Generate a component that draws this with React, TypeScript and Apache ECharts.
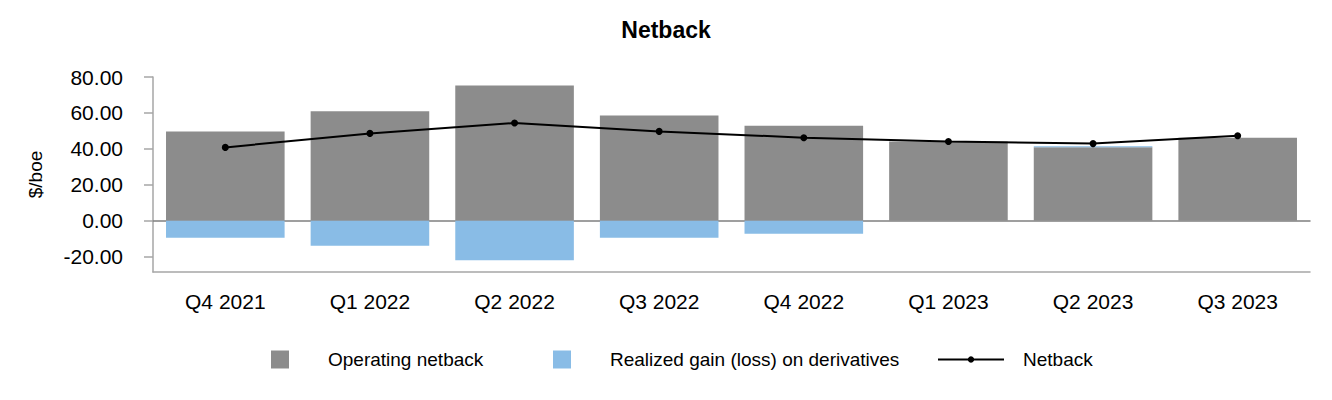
import React, { useEffect, useRef } from "react";
import * as echarts from "echarts";

const categories = ["Q4 2021", "Q1 2022", "Q2 2022", "Q3 2022", "Q4 2022", "Q1 2023", "Q2 2023", "Q3 2023"];
const operatingNetback = [49.7, 60.9, 75.3, 58.5, 52.9, 44.1, 40.9, 46.2];
const realizedDerivatives = [-9.5, -14.0, -22.0, -9.5, -7.3, 0, 0.6, 0];
const netback = [40.8, 48.6, 54.4, 49.7, 46.2, 44.1, 42.9, 47.3];
const yTicks = [-20, 0, 20, 40, 60, 80];

const FONT = 'Arial, "Liberation Sans", sans-serif';
const GRAY = "#8c8c8c";
const BLUE = "#89bce6";

export default function App() {
  const ref = useRef<HTMLDivElement>(null);
  useEffect(() => {
    if (!ref.current) return;
    const chart = echarts.init(ref.current, null, { renderer: "svg" });
    const legendText = (pad: number) => ({
      fontFamily: FONT,
      fontSize: 19,
      color: "#000",
      padding: [0, 0, 0, pad],
    });
    chart.setOption({
      animation: false,
      textStyle: { fontFamily: FONT },
      title: {
        text: "Netback",
        left: "center",
        top: 13,
        textStyle: { fontFamily: FONT, fontSize: 23, fontWeight: "bold", color: "#000" },
      },
      legend: [
        {
          data: ["Operating netback"],
          left: 266,
          top: 345,
          icon: "rect",
          itemWidth: 18,
          itemHeight: 18,
          textStyle: legendText(34),
        },
        {
          data: ["Realized gain (loss) on derivatives"],
          left: 548,
          top: 345,
          icon: "rect",
          itemWidth: 18,
          itemHeight: 18,
          textStyle: legendText(34),
        },
        {
          data: ["Netback"],
          left: 932,
          top: 345,
          itemWidth: 66,
          itemHeight: 8,
          textStyle: legendText(14),
        },
      ],
      grid: { left: 153, right: 22, top: 77, bottom: 128, containLabel: false },
      xAxis: [
        {
          type: "category",
          data: categories,
          position: "bottom",
          axisLine: { onZero: false, lineStyle: { color: "#a6a6a6", width: 1.5 } },
          axisTick: { alignWithLabel: true, length: 8, lineStyle: { color: "#a6a6a6", width: 1.5 } },
          axisLabel: { fontFamily: FONT, fontSize: 21, color: "#000", margin: 19 },
          splitLine: { show: false },
        },
        {
          type: "category",
          data: categories,
          position: "bottom",
          axisLine: { onZero: true, onZeroAxisIndex: 0, lineStyle: { color: "#7f7f7f", width: 1.5 } },
          axisTick: { show: false },
          axisLabel: { show: false },
          splitLine: { show: false },
        },
      ],
      yAxis: {
        type: "value",
        min: -28.6,
        max: 80,
        name: "$/boe",
        nameLocation: "middle",
        nameRotate: 90,
        nameGap: 108,
        nameTextStyle: { fontFamily: FONT, fontSize: 19, color: "#000" },
        axisLine: { show: true, lineStyle: { color: "#a6a6a6", width: 1.5 } },
        axisTick: { show: true, length: 9, customValues: yTicks, lineStyle: { color: "#a6a6a6", width: 1.5 } },
        axisLabel: {
          fontFamily: FONT,
          fontSize: 21,
          color: "#000",
          margin: 30,
          customValues: yTicks,
          formatter: (v: number) => v.toFixed(2),
        },
        splitLine: { show: false },
      },
      series: [
        {
          name: "Operating netback",
          type: "bar",
          stack: "total",
          data: operatingNetback,
          barCategoryGap: "18%",
          itemStyle: { color: GRAY },
        },
        {
          name: "Realized gain (loss) on derivatives",
          type: "bar",
          stack: "total",
          data: realizedDerivatives,
          itemStyle: { color: BLUE },
        },
        {
          name: "Netback",
          type: "line",
          data: netback,
          symbol: "circle",
          symbolSize: 7,
          lineStyle: { color: "#000", width: 2 },
          itemStyle: { color: "#000" },
          z: 5,
        },
      ],
    });
    return () => chart.dispose();
  }, []);
  return (
    <div
      ref={ref}
      style={{ position: "fixed", left: 0, top: 0, width: 1332, height: 400, background: "#fff" }}
    />
  );
}
